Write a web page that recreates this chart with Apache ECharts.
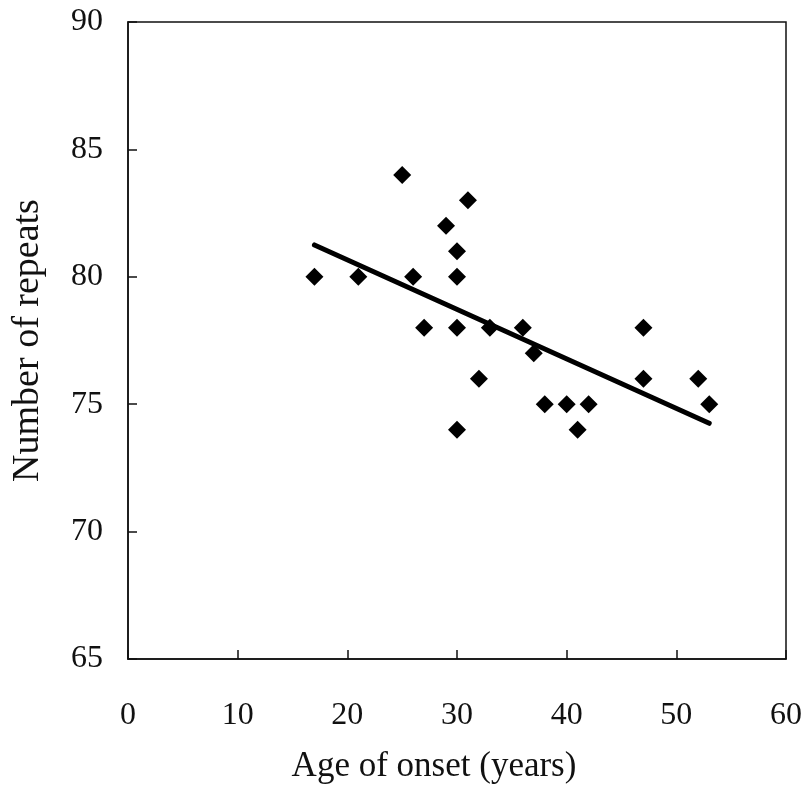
<!DOCTYPE html>
<html>
<head>
<meta charset="utf-8">
<script src="https://cdn.jsdelivr.net/npm/echarts@6/dist/echarts.min.js"></script>
<style>
  html, body { margin: 0; padding: 0; background: #fff; }
  #chart { width: 804px; height: 792px; }
</style>
</head>
<body>
<div id="chart"></div>
<script>
// age of onset (years) and number of repeats
let ages    = [17, 21, 25, 26, 27, 29, 30, 30, 30, 30, 31, 32, 33, 36, 37, 38, 40, 41, 42, 47, 47, 52, 53];
let repeats = [80, 80, 84, 80, 78, 82, 81, 80, 78, 74, 83, 76, 78, 78, 77, 75, 75, 74, 75, 78, 76, 76, 75];

// fitted line end points
let fitX = [17, 53];
let fitY = [81.25, 74.25];

let font = '"Liberation Serif", "DejaVu Serif", serif';

let chart = echarts.init(document.getElementById('chart'));

let option = {
    backgroundColor: '#fff',
    animation: false,
    grid: {
        left: 128,
        top: 22,
        right: 18,
        bottom: 133,
        containLabel: false,
        outerBoundsMode: 'none',
        show: true,
        borderColor: '#111',
        borderWidth: 1.5
    },
    xAxis: {
        type: 'value',
        min: 0,
        max: 60,
        interval: 10,
        name: 'Age of onset (years)',
        nameLocation: 'middle',
        nameGap: 90,
        // title sits a bit left of the plot centre in the original
        nameTextStyle: { fontFamily: font, fontSize: 35, color: '#111', padding: [0, 46, 0, 0] },
        axisLine: { show: true, lineStyle: { color: '#111', width: 1.5 } },
        axisTick: { show: true, inside: true, length: 9, lineStyle: { color: '#111', width: 1.5 } },
        axisLabel: { fontFamily: font, fontSize: 32, color: '#111', margin: 41 },
        splitLine: { show: false }
    },
    yAxis: {
        type: 'value',
        min: 65,
        max: 90,
        interval: 5,
        name: 'Number of repeats',
        nameLocation: 'middle',
        nameGap: 81,
        nameTextStyle: { fontFamily: font, fontSize: 38, color: '#111' },
        axisLine: { show: true, lineStyle: { color: '#111', width: 1.5 } },
        axisTick: { show: true, inside: true, length: 9, lineStyle: { color: '#111', width: 1.5 } },
        axisLabel: { fontFamily: font, fontSize: 32, color: '#111', margin: 25 },
        splitLine: { show: false }
    },
    series: [
        {
            type: 'scatter',
            symbol: 'diamond',
            symbolSize: 18,
            itemStyle: { color: '#000', opacity: 1 },
            data: ages.map((a, i) => [a, repeats[i]]),
            z: 3
        },
        {
            type: 'line',
            symbol: 'none',
            lineStyle: { color: '#000', width: 5, cap: 'round' },
            data: fitX.map((a, i) => [a, fitY[i]]),
            z: 2
        }
    ]
};

chart.setOption(option);
</script>
</body>
</html>
